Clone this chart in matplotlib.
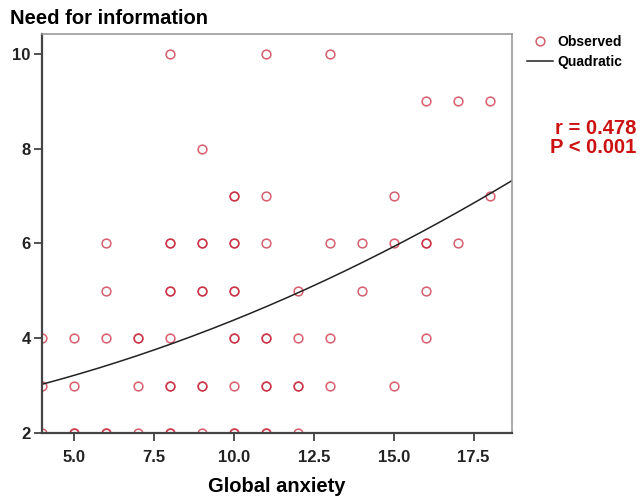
import matplotlib.pyplot as plt
import numpy as np

plt.rcParams['font.family'] = ['Liberation Sans', 'DejaVu Sans']

# Global anxiety (x) y Need for information (y), puntos observados
ansiedad = [8, 11, 13,
            16, 17, 18,
            9,
            10, 10, 11, 15, 18,
            6, 8, 8, 9, 9, 10, 10, 11, 13, 14, 15, 16, 16, 17,
            6, 8, 8, 9, 9, 10, 10, 12, 14, 16,
            4, 5, 6, 7, 7, 8, 10, 10, 11, 11, 12, 13, 16,
            4, 5, 7, 8, 8, 9, 9, 10, 11, 11, 12, 12, 13, 15,
            4, 5, 5, 6, 6, 7, 8, 8, 9, 10, 10, 11, 11, 12]
informacion = [10, 10, 10,
               9, 9, 9,
               8,
               7, 7, 7, 7, 7,
               6, 6, 6, 6, 6, 6, 6, 6, 6, 6, 6, 6, 6, 6,
               5, 5, 5, 5, 5, 5, 5, 5, 5, 5,
               4, 4, 4, 4, 4, 4, 4, 4, 4, 4, 4, 4, 4,
               3, 3, 3, 3, 3, 3, 3, 3, 3, 3, 3, 3, 3, 3,
               2, 2, 2, 2, 2, 2, 2, 2, 2, 2, 2, 2, 2, 2]

# coeficientes del ajuste cuadratico (c, b, a)
coef = [2.43, 0.1188, 0.00765]

x_ticks = [5.0, 7.5, 10.0, 12.5, 15.0, 17.5]
y_ticks = [2, 4, 6, 8, 10]

fig = plt.figure(figsize=(6.41, 4.97), dpi=100)
ax = fig.add_axes([0.0655, 0.1288, 0.7333, 0.8028])

rojo = '#c8283c'
ax.plot(ansiedad, informacion, 'o', mfc='none', mec=rojo, mew=1.1,
        ms=6.3, alpha=0.75, label='Observed')

xs = np.linspace(4, 18.7, 200)
ys = coef[0] + coef[1] * xs + coef[2] * xs ** 2
ax.plot(xs, ys, color='#222222', lw=1.1, label='Quadratic')

ax.set_xlim(4, 18.7)
ax.set_ylim(2, 10.42)
ax.set_xticks(x_ticks)
ax.set_xticklabels(['%.1f' % t for t in x_ticks])
ax.set_yticks(y_ticks)
ax.tick_params(length=6, width=1.3, color='#444444', labelsize=12)
ax.tick_params(axis='x', pad=6)
ax.tick_params(axis='y', pad=2)
for lab in ax.get_xticklabels() + ax.get_yticklabels():
    lab.set_fontweight('bold')
    lab.set_color('#222222')

for lado in ['left', 'bottom']:
    ax.spines[lado].set_color('#444444')
    ax.spines[lado].set_linewidth(1.6)
for lado in ['top', 'right']:
    ax.spines[lado].set_color('#999999')
    ax.spines[lado].set_linewidth(1.2)

ax.set_xlabel('Global anxiety', fontsize=14.5, fontweight='bold', labelpad=9)
fig.text(0.015, 0.963, 'Need for information', fontsize=14.5,
         fontweight='bold', va='center', ha='left')

leg = ax.legend(loc='upper left', bbox_to_anchor=(1.005, 1.03), frameon=False,
                handlelength=1.9, handletextpad=0.3, labelspacing=0.45,
                prop={'size': 10, 'weight': 'bold'})

fig.text(0.993, 0.722, 'r = 0.478\nP < 0.001', color='#cc1111', fontsize=14.5,
         fontweight='bold', ha='right', va='center', linespacing=1.0)

fig.savefig('out.png', dpi=100)
